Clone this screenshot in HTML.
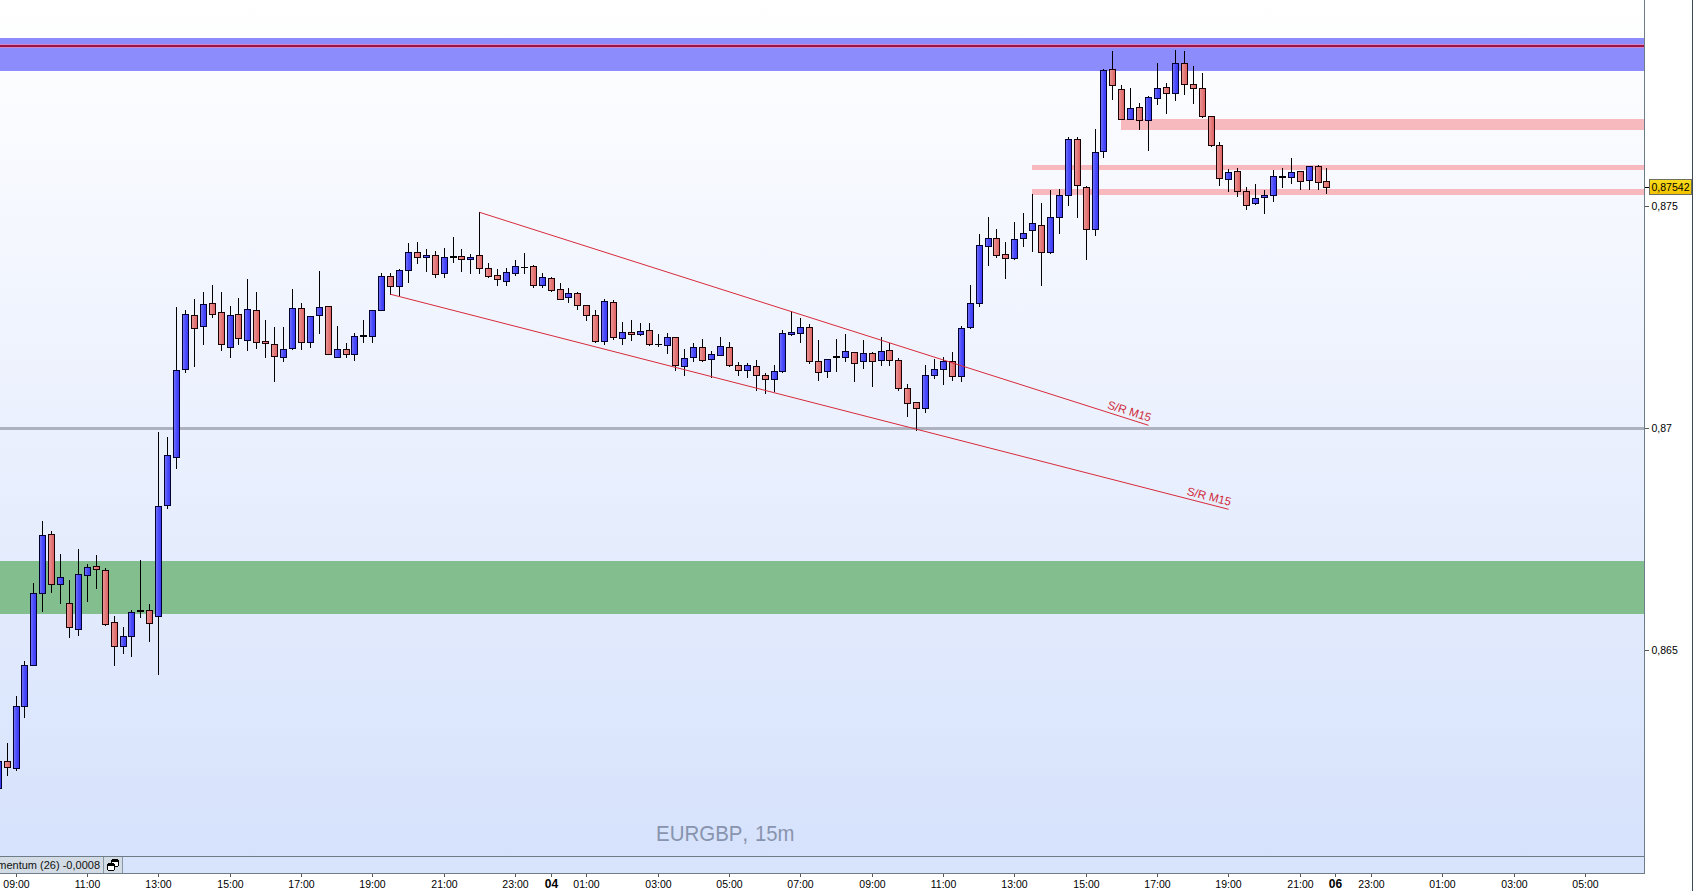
<!DOCTYPE html><html><head><meta charset="utf-8"><style>
html,body{margin:0;padding:0;width:1693px;height:891px;overflow:hidden;background:#fff;}
svg{display:block;font-family:"Liberation Sans",sans-serif;}
</style></head><body>
<svg width="1693" height="891" viewBox="0 0 1693 891">
<defs>
<linearGradient id="bg" x1="0" y1="0" x2="0" y2="1"><stop offset="0" stop-color="#ffffff"/><stop offset="1" stop-color="#d6e2fc"/></linearGradient>
<linearGradient id="gb" x1="0" y1="0" x2="1" y2="0"><stop offset="0" stop-color="#7070f4"/><stop offset="0.5" stop-color="#4c4cff"/><stop offset="1" stop-color="#3a3af0"/></linearGradient>
<linearGradient id="gr" x1="0" y1="0" x2="1" y2="0"><stop offset="0" stop-color="#ea9494"/><stop offset="1" stop-color="#de6262"/></linearGradient>
<linearGradient id="gy" x1="0" y1="0" x2="0" y2="1"><stop offset="0" stop-color="#f9dc1c"/><stop offset="1" stop-color="#f2c200"/></linearGradient>
</defs>
<rect x="0" y="0" width="1693" height="891" fill="#ffffff"/>
<rect x="0" y="0" width="1644" height="856" fill="url(#bg)"/>
<rect x="0" y="857" width="1644" height="16" fill="#d8e3fc"/>
<g shape-rendering="crispEdges">
<rect x="0" y="38" width="1644" height="33" fill="#8c8cfc"/>
<rect x="0" y="44" width="1644" height="1" fill="#d286c6"/>
<rect x="0" y="47" width="1644" height="1" fill="#d286c6"/>
<rect x="0" y="45" width="1644" height="2" fill="#9a1648"/>
<rect x="0" y="561" width="1644" height="53" fill="#82be8e"/>
<rect x="1121" y="119" width="523" height="11" fill="#f7b9bd"/>
<rect x="1032" y="165" width="612" height="5" fill="#f7b9bd"/>
<rect x="1032" y="189" width="612" height="6" fill="#f7b9bd"/>
<rect x="0" y="427" width="1644" height="3" fill="#adb1c0"/>
</g>
<g shape-rendering="crispEdges">
<rect x="-2" y="758" width="1" height="32" fill="#000"/>
<rect x="-5" y="761" width="7" height="28" fill="#000030"/>
<rect x="-4" y="762" width="5" height="26" fill="url(#gb)"/>
<rect x="7" y="743" width="1" height="33" fill="#000"/>
<rect x="4" y="761" width="7" height="7" fill="#1a0000"/>
<rect x="5" y="762" width="5" height="5" fill="url(#gr)"/>
<rect x="16" y="696" width="1" height="75" fill="#000"/>
<rect x="13" y="706" width="7" height="63" fill="#000030"/>
<rect x="14" y="707" width="5" height="61" fill="url(#gb)"/>
<rect x="24" y="661" width="1" height="57" fill="#000"/>
<rect x="21" y="665" width="7" height="42" fill="#000030"/>
<rect x="22" y="666" width="5" height="40" fill="url(#gb)"/>
<rect x="33" y="583" width="1" height="83" fill="#000"/>
<rect x="30" y="593" width="7" height="73" fill="#000030"/>
<rect x="31" y="594" width="5" height="71" fill="url(#gb)"/>
<rect x="42" y="521" width="1" height="91" fill="#000"/>
<rect x="39" y="535" width="7" height="59" fill="#000030"/>
<rect x="40" y="536" width="5" height="57" fill="url(#gb)"/>
<rect x="51" y="531" width="1" height="62" fill="#000"/>
<rect x="48" y="534" width="7" height="51" fill="#1a0000"/>
<rect x="49" y="535" width="5" height="49" fill="url(#gr)"/>
<rect x="60" y="554" width="1" height="50" fill="#000"/>
<rect x="57" y="577" width="7" height="8" fill="#000030"/>
<rect x="58" y="578" width="5" height="6" fill="url(#gb)"/>
<rect x="69" y="580" width="1" height="58" fill="#000"/>
<rect x="66" y="603" width="7" height="25" fill="#1a0000"/>
<rect x="67" y="604" width="5" height="23" fill="url(#gr)"/>
<rect x="78" y="549" width="1" height="87" fill="#000"/>
<rect x="75" y="574" width="7" height="56" fill="#000030"/>
<rect x="76" y="575" width="5" height="54" fill="url(#gb)"/>
<rect x="87" y="564" width="1" height="38" fill="#000"/>
<rect x="84" y="567" width="7" height="9" fill="#000030"/>
<rect x="85" y="568" width="5" height="7" fill="url(#gb)"/>
<rect x="96" y="555" width="1" height="34" fill="#000"/>
<rect x="93" y="566" width="7" height="4" fill="#1a0000"/>
<rect x="94" y="567" width="5" height="2" fill="url(#gr)"/>
<rect x="105" y="568" width="1" height="58" fill="#000"/>
<rect x="102" y="570" width="7" height="55" fill="#1a0000"/>
<rect x="103" y="571" width="5" height="53" fill="url(#gr)"/>
<rect x="114" y="616" width="1" height="50" fill="#000"/>
<rect x="111" y="622" width="7" height="25" fill="#1a0000"/>
<rect x="112" y="623" width="5" height="23" fill="url(#gr)"/>
<rect x="123" y="627" width="1" height="27" fill="#000"/>
<rect x="120" y="636" width="7" height="11" fill="#000030"/>
<rect x="121" y="637" width="5" height="9" fill="url(#gb)"/>
<rect x="131" y="610" width="1" height="47" fill="#000"/>
<rect x="128" y="612" width="7" height="25" fill="#000030"/>
<rect x="129" y="613" width="5" height="23" fill="url(#gb)"/>
<rect x="140" y="560" width="1" height="58" fill="#000"/>
<rect x="137" y="610" width="7" height="2" fill="#000"/>
<rect x="149" y="604" width="1" height="38" fill="#000"/>
<rect x="146" y="610" width="7" height="14" fill="#1a0000"/>
<rect x="147" y="611" width="5" height="12" fill="url(#gr)"/>
<rect x="158" y="432" width="1" height="243" fill="#000"/>
<rect x="155" y="506" width="7" height="111" fill="#000030"/>
<rect x="156" y="507" width="5" height="109" fill="url(#gb)"/>
<rect x="167" y="437" width="1" height="72" fill="#000"/>
<rect x="164" y="455" width="7" height="51" fill="#000030"/>
<rect x="165" y="456" width="5" height="49" fill="url(#gb)"/>
<rect x="176" y="307" width="1" height="162" fill="#000"/>
<rect x="173" y="370" width="7" height="88" fill="#000030"/>
<rect x="174" y="371" width="5" height="86" fill="url(#gb)"/>
<rect x="185" y="310" width="1" height="63" fill="#000"/>
<rect x="182" y="314" width="7" height="56" fill="#000030"/>
<rect x="183" y="315" width="5" height="54" fill="url(#gb)"/>
<rect x="194" y="299" width="1" height="68" fill="#000"/>
<rect x="191" y="315" width="7" height="14" fill="#1a0000"/>
<rect x="192" y="316" width="5" height="12" fill="url(#gr)"/>
<rect x="203" y="292" width="1" height="53" fill="#000"/>
<rect x="200" y="304" width="7" height="23" fill="#000030"/>
<rect x="201" y="305" width="5" height="21" fill="url(#gb)"/>
<rect x="212" y="285" width="1" height="33" fill="#000"/>
<rect x="209" y="303" width="7" height="12" fill="#1a0000"/>
<rect x="210" y="304" width="5" height="10" fill="url(#gr)"/>
<rect x="221" y="292" width="1" height="59" fill="#000"/>
<rect x="218" y="312" width="7" height="33" fill="#1a0000"/>
<rect x="219" y="313" width="5" height="31" fill="url(#gr)"/>
<rect x="230" y="306" width="1" height="52" fill="#000"/>
<rect x="227" y="315" width="7" height="33" fill="#000030"/>
<rect x="228" y="316" width="5" height="31" fill="url(#gb)"/>
<rect x="238" y="298" width="1" height="47" fill="#000"/>
<rect x="235" y="314" width="7" height="25" fill="#1a0000"/>
<rect x="236" y="315" width="5" height="23" fill="url(#gr)"/>
<rect x="247" y="279" width="1" height="72" fill="#000"/>
<rect x="244" y="309" width="7" height="32" fill="#000030"/>
<rect x="245" y="310" width="5" height="30" fill="url(#gb)"/>
<rect x="256" y="292" width="1" height="57" fill="#000"/>
<rect x="253" y="310" width="7" height="33" fill="#1a0000"/>
<rect x="254" y="311" width="5" height="31" fill="url(#gr)"/>
<rect x="265" y="320" width="1" height="38" fill="#000"/>
<rect x="262" y="341" width="7" height="3" fill="#1a0000"/>
<rect x="263" y="342" width="5" height="1" fill="url(#gr)"/>
<rect x="274" y="327" width="1" height="55" fill="#000"/>
<rect x="271" y="344" width="7" height="13" fill="#1a0000"/>
<rect x="272" y="345" width="5" height="11" fill="url(#gr)"/>
<rect x="283" y="327" width="1" height="35" fill="#000"/>
<rect x="280" y="349" width="7" height="9" fill="#000030"/>
<rect x="281" y="350" width="5" height="7" fill="url(#gb)"/>
<rect x="292" y="289" width="1" height="61" fill="#000"/>
<rect x="289" y="308" width="7" height="41" fill="#000030"/>
<rect x="290" y="309" width="5" height="39" fill="url(#gb)"/>
<rect x="301" y="303" width="1" height="47" fill="#000"/>
<rect x="298" y="308" width="7" height="35" fill="#1a0000"/>
<rect x="299" y="309" width="5" height="33" fill="url(#gr)"/>
<rect x="310" y="316" width="1" height="32" fill="#000"/>
<rect x="307" y="316" width="7" height="27" fill="#000030"/>
<rect x="308" y="317" width="5" height="25" fill="url(#gb)"/>
<rect x="319" y="271" width="1" height="63" fill="#000"/>
<rect x="316" y="307" width="7" height="9" fill="#000030"/>
<rect x="317" y="308" width="5" height="7" fill="url(#gb)"/>
<rect x="328" y="306" width="1" height="49" fill="#000"/>
<rect x="325" y="306" width="7" height="49" fill="#1a0000"/>
<rect x="326" y="307" width="5" height="47" fill="url(#gr)"/>
<rect x="337" y="326" width="1" height="32" fill="#000"/>
<rect x="334" y="349" width="7" height="9" fill="#000030"/>
<rect x="335" y="350" width="5" height="7" fill="url(#gb)"/>
<rect x="346" y="343" width="1" height="15" fill="#000"/>
<rect x="343" y="349" width="7" height="6" fill="#1a0000"/>
<rect x="344" y="350" width="5" height="4" fill="url(#gr)"/>
<rect x="354" y="333" width="1" height="28" fill="#000"/>
<rect x="351" y="336" width="7" height="19" fill="#000030"/>
<rect x="352" y="337" width="5" height="17" fill="url(#gb)"/>
<rect x="363" y="320" width="1" height="23" fill="#000"/>
<rect x="360" y="335" width="7" height="2" fill="#000"/>
<rect x="372" y="310" width="1" height="33" fill="#000"/>
<rect x="369" y="310" width="7" height="27" fill="#000030"/>
<rect x="370" y="311" width="5" height="25" fill="url(#gb)"/>
<rect x="381" y="273" width="1" height="38" fill="#000"/>
<rect x="378" y="276" width="7" height="35" fill="#000030"/>
<rect x="379" y="277" width="5" height="33" fill="url(#gb)"/>
<rect x="390" y="273" width="1" height="22" fill="#000"/>
<rect x="387" y="276" width="7" height="11" fill="#1a0000"/>
<rect x="388" y="277" width="5" height="9" fill="url(#gr)"/>
<rect x="399" y="269" width="1" height="27" fill="#000"/>
<rect x="396" y="270" width="7" height="17" fill="#000030"/>
<rect x="397" y="271" width="5" height="15" fill="url(#gb)"/>
<rect x="408" y="243" width="1" height="40" fill="#000"/>
<rect x="405" y="252" width="7" height="19" fill="#000030"/>
<rect x="406" y="253" width="5" height="17" fill="url(#gb)"/>
<rect x="417" y="242" width="1" height="22" fill="#000"/>
<rect x="414" y="252" width="7" height="6" fill="#1a0000"/>
<rect x="415" y="253" width="5" height="4" fill="url(#gr)"/>
<rect x="426" y="249" width="1" height="23" fill="#000"/>
<rect x="423" y="255" width="7" height="3" fill="#000030"/>
<rect x="424" y="256" width="5" height="1" fill="url(#gb)"/>
<rect x="435" y="251" width="1" height="27" fill="#000"/>
<rect x="432" y="255" width="7" height="20" fill="#1a0000"/>
<rect x="433" y="256" width="5" height="18" fill="url(#gr)"/>
<rect x="444" y="248" width="1" height="30" fill="#000"/>
<rect x="441" y="257" width="7" height="17" fill="#000030"/>
<rect x="442" y="258" width="5" height="15" fill="url(#gb)"/>
<rect x="453" y="237" width="1" height="26" fill="#000"/>
<rect x="450" y="256" width="7" height="2" fill="#000"/>
<rect x="461" y="249" width="1" height="23" fill="#000"/>
<rect x="458" y="256" width="7" height="4" fill="#1a0000"/>
<rect x="459" y="257" width="5" height="2" fill="url(#gr)"/>
<rect x="470" y="254" width="1" height="20" fill="#000"/>
<rect x="467" y="257" width="7" height="3" fill="#000030"/>
<rect x="468" y="258" width="5" height="1" fill="url(#gb)"/>
<rect x="479" y="212" width="1" height="62" fill="#000"/>
<rect x="476" y="255" width="7" height="14" fill="#1a0000"/>
<rect x="477" y="256" width="5" height="12" fill="url(#gr)"/>
<rect x="488" y="263" width="1" height="15" fill="#000"/>
<rect x="485" y="268" width="7" height="9" fill="#1a0000"/>
<rect x="486" y="269" width="5" height="7" fill="url(#gr)"/>
<rect x="497" y="269" width="1" height="17" fill="#000"/>
<rect x="494" y="275" width="7" height="5" fill="#1a0000"/>
<rect x="495" y="276" width="5" height="3" fill="url(#gr)"/>
<rect x="506" y="268" width="1" height="18" fill="#000"/>
<rect x="503" y="272" width="7" height="10" fill="#000030"/>
<rect x="504" y="273" width="5" height="8" fill="url(#gb)"/>
<rect x="515" y="260" width="1" height="16" fill="#000"/>
<rect x="512" y="266" width="7" height="8" fill="#000030"/>
<rect x="513" y="267" width="5" height="6" fill="url(#gb)"/>
<rect x="524" y="253" width="1" height="21" fill="#000"/>
<rect x="521" y="267" width="7" height="1" fill="#000"/>
<rect x="533" y="265" width="1" height="23" fill="#000"/>
<rect x="530" y="266" width="7" height="20" fill="#1a0000"/>
<rect x="531" y="267" width="5" height="18" fill="url(#gr)"/>
<rect x="542" y="273" width="1" height="15" fill="#000"/>
<rect x="539" y="277" width="7" height="9" fill="#000030"/>
<rect x="540" y="278" width="5" height="7" fill="url(#gb)"/>
<rect x="551" y="277" width="1" height="15" fill="#000"/>
<rect x="548" y="278" width="7" height="13" fill="#1a0000"/>
<rect x="549" y="279" width="5" height="11" fill="url(#gr)"/>
<rect x="560" y="283" width="1" height="17" fill="#000"/>
<rect x="557" y="289" width="7" height="11" fill="#1a0000"/>
<rect x="558" y="290" width="5" height="9" fill="url(#gr)"/>
<rect x="568" y="288" width="1" height="15" fill="#000"/>
<rect x="565" y="293" width="7" height="5" fill="#000030"/>
<rect x="566" y="294" width="5" height="3" fill="url(#gb)"/>
<rect x="577" y="292" width="1" height="18" fill="#000"/>
<rect x="574" y="293" width="7" height="13" fill="#1a0000"/>
<rect x="575" y="294" width="5" height="11" fill="url(#gr)"/>
<rect x="586" y="305" width="1" height="16" fill="#000"/>
<rect x="583" y="305" width="7" height="11" fill="#1a0000"/>
<rect x="584" y="306" width="5" height="9" fill="url(#gr)"/>
<rect x="595" y="310" width="1" height="33" fill="#000"/>
<rect x="592" y="315" width="7" height="27" fill="#1a0000"/>
<rect x="593" y="316" width="5" height="25" fill="url(#gr)"/>
<rect x="604" y="299" width="1" height="46" fill="#000"/>
<rect x="601" y="301" width="7" height="41" fill="#000030"/>
<rect x="602" y="302" width="5" height="39" fill="url(#gb)"/>
<rect x="613" y="300" width="1" height="40" fill="#000"/>
<rect x="610" y="302" width="7" height="36" fill="#1a0000"/>
<rect x="611" y="303" width="5" height="34" fill="url(#gr)"/>
<rect x="622" y="322" width="1" height="23" fill="#000"/>
<rect x="619" y="332" width="7" height="7" fill="#000030"/>
<rect x="620" y="333" width="5" height="5" fill="url(#gb)"/>
<rect x="631" y="320" width="1" height="21" fill="#000"/>
<rect x="628" y="332" width="7" height="3" fill="#1a0000"/>
<rect x="629" y="333" width="5" height="1" fill="url(#gr)"/>
<rect x="640" y="323" width="1" height="13" fill="#000"/>
<rect x="637" y="331" width="7" height="4" fill="#000030"/>
<rect x="638" y="332" width="5" height="2" fill="url(#gb)"/>
<rect x="649" y="323" width="1" height="23" fill="#000"/>
<rect x="646" y="330" width="7" height="15" fill="#1a0000"/>
<rect x="647" y="331" width="5" height="13" fill="url(#gr)"/>
<rect x="658" y="334" width="1" height="13" fill="#000"/>
<rect x="655" y="344" width="7" height="1" fill="#000"/>
<rect x="667" y="333" width="1" height="21" fill="#000"/>
<rect x="664" y="337" width="7" height="9" fill="#000030"/>
<rect x="665" y="338" width="5" height="7" fill="url(#gb)"/>
<rect x="675" y="337" width="1" height="34" fill="#000"/>
<rect x="672" y="337" width="7" height="29" fill="#1a0000"/>
<rect x="673" y="338" width="5" height="27" fill="url(#gr)"/>
<rect x="684" y="349" width="1" height="27" fill="#000"/>
<rect x="681" y="358" width="7" height="9" fill="#000030"/>
<rect x="682" y="359" width="5" height="7" fill="url(#gb)"/>
<rect x="693" y="343" width="1" height="19" fill="#000"/>
<rect x="690" y="347" width="7" height="11" fill="#000030"/>
<rect x="691" y="348" width="5" height="9" fill="url(#gb)"/>
<rect x="702" y="339" width="1" height="23" fill="#000"/>
<rect x="699" y="347" width="7" height="14" fill="#1a0000"/>
<rect x="700" y="348" width="5" height="12" fill="url(#gr)"/>
<rect x="711" y="351" width="1" height="27" fill="#000"/>
<rect x="708" y="354" width="7" height="6" fill="#000030"/>
<rect x="709" y="355" width="5" height="4" fill="url(#gb)"/>
<rect x="720" y="337" width="1" height="19" fill="#000"/>
<rect x="717" y="346" width="7" height="10" fill="#000030"/>
<rect x="718" y="347" width="5" height="8" fill="url(#gb)"/>
<rect x="729" y="342" width="1" height="25" fill="#000"/>
<rect x="726" y="347" width="7" height="19" fill="#1a0000"/>
<rect x="727" y="348" width="5" height="17" fill="url(#gr)"/>
<rect x="738" y="362" width="1" height="14" fill="#000"/>
<rect x="735" y="365" width="7" height="6" fill="#1a0000"/>
<rect x="736" y="366" width="5" height="4" fill="url(#gr)"/>
<rect x="747" y="363" width="1" height="15" fill="#000"/>
<rect x="744" y="365" width="7" height="6" fill="#000030"/>
<rect x="745" y="366" width="5" height="4" fill="url(#gb)"/>
<rect x="756" y="360" width="1" height="31" fill="#000"/>
<rect x="753" y="366" width="7" height="10" fill="#1a0000"/>
<rect x="754" y="367" width="5" height="8" fill="url(#gr)"/>
<rect x="765" y="373" width="1" height="21" fill="#000"/>
<rect x="762" y="375" width="7" height="5" fill="#1a0000"/>
<rect x="763" y="376" width="5" height="3" fill="url(#gr)"/>
<rect x="774" y="365" width="1" height="27" fill="#000"/>
<rect x="771" y="371" width="7" height="9" fill="#000030"/>
<rect x="772" y="372" width="5" height="7" fill="url(#gb)"/>
<rect x="782" y="330" width="1" height="43" fill="#000"/>
<rect x="779" y="333" width="7" height="39" fill="#000030"/>
<rect x="780" y="334" width="5" height="37" fill="url(#gb)"/>
<rect x="791" y="311" width="1" height="25" fill="#000"/>
<rect x="788" y="332" width="7" height="3" fill="#000030"/>
<rect x="789" y="333" width="5" height="1" fill="url(#gb)"/>
<rect x="800" y="318" width="1" height="25" fill="#000"/>
<rect x="797" y="327" width="7" height="7" fill="#000030"/>
<rect x="798" y="328" width="5" height="5" fill="url(#gb)"/>
<rect x="809" y="324" width="1" height="40" fill="#000"/>
<rect x="806" y="327" width="7" height="35" fill="#1a0000"/>
<rect x="807" y="328" width="5" height="33" fill="url(#gr)"/>
<rect x="818" y="340" width="1" height="41" fill="#000"/>
<rect x="815" y="361" width="7" height="12" fill="#1a0000"/>
<rect x="816" y="362" width="5" height="10" fill="url(#gr)"/>
<rect x="827" y="359" width="1" height="19" fill="#000"/>
<rect x="824" y="359" width="7" height="13" fill="#000030"/>
<rect x="825" y="360" width="5" height="11" fill="url(#gb)"/>
<rect x="836" y="339" width="1" height="33" fill="#000"/>
<rect x="833" y="356" width="7" height="2" fill="#000"/>
<rect x="845" y="334" width="1" height="28" fill="#000"/>
<rect x="842" y="351" width="7" height="7" fill="#000030"/>
<rect x="843" y="352" width="5" height="5" fill="url(#gb)"/>
<rect x="854" y="352" width="1" height="30" fill="#000"/>
<rect x="851" y="352" width="7" height="12" fill="#1a0000"/>
<rect x="852" y="353" width="5" height="10" fill="url(#gr)"/>
<rect x="863" y="340" width="1" height="29" fill="#000"/>
<rect x="860" y="353" width="7" height="9" fill="#000030"/>
<rect x="861" y="354" width="5" height="7" fill="url(#gb)"/>
<rect x="872" y="352" width="1" height="35" fill="#000"/>
<rect x="869" y="353" width="7" height="9" fill="#1a0000"/>
<rect x="870" y="354" width="5" height="7" fill="url(#gr)"/>
<rect x="881" y="337" width="1" height="29" fill="#000"/>
<rect x="878" y="351" width="7" height="10" fill="#000030"/>
<rect x="879" y="352" width="5" height="8" fill="url(#gb)"/>
<rect x="889" y="343" width="1" height="23" fill="#000"/>
<rect x="886" y="350" width="7" height="11" fill="#1a0000"/>
<rect x="887" y="351" width="5" height="9" fill="url(#gr)"/>
<rect x="898" y="358" width="1" height="33" fill="#000"/>
<rect x="895" y="360" width="7" height="29" fill="#1a0000"/>
<rect x="896" y="361" width="5" height="27" fill="url(#gr)"/>
<rect x="907" y="384" width="1" height="33" fill="#000"/>
<rect x="904" y="388" width="7" height="16" fill="#1a0000"/>
<rect x="905" y="389" width="5" height="14" fill="url(#gr)"/>
<rect x="916" y="402" width="1" height="29" fill="#000"/>
<rect x="913" y="402" width="7" height="7" fill="#1a0000"/>
<rect x="914" y="403" width="5" height="5" fill="url(#gr)"/>
<rect x="925" y="365" width="1" height="48" fill="#000"/>
<rect x="922" y="375" width="7" height="34" fill="#000030"/>
<rect x="923" y="376" width="5" height="32" fill="url(#gb)"/>
<rect x="934" y="359" width="1" height="20" fill="#000"/>
<rect x="931" y="369" width="7" height="7" fill="#000030"/>
<rect x="932" y="370" width="5" height="5" fill="url(#gb)"/>
<rect x="943" y="357" width="1" height="28" fill="#000"/>
<rect x="940" y="361" width="7" height="9" fill="#000030"/>
<rect x="941" y="362" width="5" height="7" fill="url(#gb)"/>
<rect x="952" y="352" width="1" height="29" fill="#000"/>
<rect x="949" y="361" width="7" height="16" fill="#1a0000"/>
<rect x="950" y="362" width="5" height="14" fill="url(#gr)"/>
<rect x="961" y="326" width="1" height="56" fill="#000"/>
<rect x="958" y="328" width="7" height="49" fill="#000030"/>
<rect x="959" y="329" width="5" height="47" fill="url(#gb)"/>
<rect x="970" y="285" width="1" height="44" fill="#000"/>
<rect x="967" y="303" width="7" height="25" fill="#000030"/>
<rect x="968" y="304" width="5" height="23" fill="url(#gb)"/>
<rect x="979" y="234" width="1" height="73" fill="#000"/>
<rect x="976" y="245" width="7" height="59" fill="#000030"/>
<rect x="977" y="246" width="5" height="57" fill="url(#gb)"/>
<rect x="988" y="217" width="1" height="49" fill="#000"/>
<rect x="985" y="238" width="7" height="9" fill="#000030"/>
<rect x="986" y="239" width="5" height="7" fill="url(#gb)"/>
<rect x="996" y="229" width="1" height="29" fill="#000"/>
<rect x="993" y="238" width="7" height="18" fill="#1a0000"/>
<rect x="994" y="239" width="5" height="16" fill="url(#gr)"/>
<rect x="1005" y="242" width="1" height="37" fill="#000"/>
<rect x="1002" y="254" width="7" height="5" fill="#1a0000"/>
<rect x="1003" y="255" width="5" height="3" fill="url(#gr)"/>
<rect x="1014" y="222" width="1" height="38" fill="#000"/>
<rect x="1011" y="239" width="7" height="20" fill="#000030"/>
<rect x="1012" y="240" width="5" height="18" fill="url(#gb)"/>
<rect x="1023" y="213" width="1" height="34" fill="#000"/>
<rect x="1020" y="233" width="7" height="6" fill="#000030"/>
<rect x="1021" y="234" width="5" height="4" fill="url(#gb)"/>
<rect x="1032" y="194" width="1" height="58" fill="#000"/>
<rect x="1029" y="223" width="7" height="8" fill="#000030"/>
<rect x="1030" y="224" width="5" height="6" fill="url(#gb)"/>
<rect x="1041" y="203" width="1" height="83" fill="#000"/>
<rect x="1038" y="225" width="7" height="28" fill="#1a0000"/>
<rect x="1039" y="226" width="5" height="26" fill="url(#gr)"/>
<rect x="1050" y="190" width="1" height="64" fill="#000"/>
<rect x="1047" y="217" width="7" height="36" fill="#000030"/>
<rect x="1048" y="218" width="5" height="34" fill="url(#gb)"/>
<rect x="1059" y="189" width="1" height="45" fill="#000"/>
<rect x="1056" y="195" width="7" height="23" fill="#000030"/>
<rect x="1057" y="196" width="5" height="21" fill="url(#gb)"/>
<rect x="1068" y="137" width="1" height="69" fill="#000"/>
<rect x="1065" y="139" width="7" height="57" fill="#000030"/>
<rect x="1066" y="140" width="5" height="55" fill="url(#gb)"/>
<rect x="1077" y="137" width="1" height="81" fill="#000"/>
<rect x="1074" y="139" width="7" height="47" fill="#1a0000"/>
<rect x="1075" y="140" width="5" height="45" fill="url(#gr)"/>
<rect x="1086" y="186" width="1" height="74" fill="#000"/>
<rect x="1083" y="187" width="7" height="43" fill="#1a0000"/>
<rect x="1084" y="188" width="5" height="41" fill="url(#gr)"/>
<rect x="1095" y="129" width="1" height="107" fill="#000"/>
<rect x="1092" y="152" width="7" height="78" fill="#000030"/>
<rect x="1093" y="153" width="5" height="76" fill="url(#gb)"/>
<rect x="1103" y="69" width="1" height="89" fill="#000"/>
<rect x="1100" y="70" width="7" height="82" fill="#000030"/>
<rect x="1101" y="71" width="5" height="80" fill="url(#gb)"/>
<rect x="1112" y="51" width="1" height="49" fill="#000"/>
<rect x="1109" y="69" width="7" height="17" fill="#1a0000"/>
<rect x="1110" y="70" width="5" height="15" fill="url(#gr)"/>
<rect x="1121" y="85" width="1" height="35" fill="#000"/>
<rect x="1118" y="89" width="7" height="31" fill="#1a0000"/>
<rect x="1119" y="90" width="5" height="29" fill="url(#gr)"/>
<rect x="1130" y="88" width="1" height="32" fill="#000"/>
<rect x="1127" y="108" width="7" height="12" fill="#000030"/>
<rect x="1128" y="109" width="5" height="10" fill="url(#gb)"/>
<rect x="1139" y="103" width="1" height="27" fill="#000"/>
<rect x="1136" y="107" width="7" height="14" fill="#1a0000"/>
<rect x="1137" y="108" width="5" height="12" fill="url(#gr)"/>
<rect x="1148" y="96" width="1" height="55" fill="#000"/>
<rect x="1145" y="97" width="7" height="24" fill="#000030"/>
<rect x="1146" y="98" width="5" height="22" fill="url(#gb)"/>
<rect x="1157" y="63" width="1" height="42" fill="#000"/>
<rect x="1154" y="88" width="7" height="11" fill="#000030"/>
<rect x="1155" y="89" width="5" height="9" fill="url(#gb)"/>
<rect x="1166" y="83" width="1" height="31" fill="#000"/>
<rect x="1163" y="87" width="7" height="7" fill="#1a0000"/>
<rect x="1164" y="88" width="5" height="5" fill="url(#gr)"/>
<rect x="1175" y="50" width="1" height="51" fill="#000"/>
<rect x="1172" y="63" width="7" height="31" fill="#000030"/>
<rect x="1173" y="64" width="5" height="29" fill="url(#gb)"/>
<rect x="1184" y="51" width="1" height="44" fill="#000"/>
<rect x="1181" y="63" width="7" height="22" fill="#1a0000"/>
<rect x="1182" y="64" width="5" height="20" fill="url(#gr)"/>
<rect x="1193" y="66" width="1" height="38" fill="#000"/>
<rect x="1190" y="84" width="7" height="5" fill="#1a0000"/>
<rect x="1191" y="85" width="5" height="3" fill="url(#gr)"/>
<rect x="1202" y="73" width="1" height="45" fill="#000"/>
<rect x="1199" y="88" width="7" height="29" fill="#1a0000"/>
<rect x="1200" y="89" width="5" height="27" fill="url(#gr)"/>
<rect x="1211" y="116" width="1" height="31" fill="#000"/>
<rect x="1208" y="116" width="7" height="30" fill="#1a0000"/>
<rect x="1209" y="117" width="5" height="28" fill="url(#gr)"/>
<rect x="1219" y="142" width="1" height="44" fill="#000"/>
<rect x="1216" y="145" width="7" height="34" fill="#1a0000"/>
<rect x="1217" y="146" width="5" height="32" fill="url(#gr)"/>
<rect x="1228" y="169" width="1" height="23" fill="#000"/>
<rect x="1225" y="172" width="7" height="8" fill="#000030"/>
<rect x="1226" y="173" width="5" height="6" fill="url(#gb)"/>
<rect x="1237" y="168" width="1" height="29" fill="#000"/>
<rect x="1234" y="171" width="7" height="21" fill="#1a0000"/>
<rect x="1235" y="172" width="5" height="19" fill="url(#gr)"/>
<rect x="1246" y="187" width="1" height="23" fill="#000"/>
<rect x="1243" y="191" width="7" height="15" fill="#1a0000"/>
<rect x="1244" y="192" width="5" height="13" fill="url(#gr)"/>
<rect x="1255" y="184" width="1" height="21" fill="#000"/>
<rect x="1252" y="198" width="7" height="6" fill="#000030"/>
<rect x="1253" y="199" width="5" height="4" fill="url(#gb)"/>
<rect x="1264" y="190" width="1" height="24" fill="#000"/>
<rect x="1261" y="195" width="7" height="3" fill="#000030"/>
<rect x="1262" y="196" width="5" height="1" fill="url(#gb)"/>
<rect x="1273" y="170" width="1" height="32" fill="#000"/>
<rect x="1270" y="176" width="7" height="20" fill="#000030"/>
<rect x="1271" y="177" width="5" height="18" fill="url(#gb)"/>
<rect x="1282" y="168" width="1" height="20" fill="#000"/>
<rect x="1279" y="176" width="7" height="2" fill="#000"/>
<rect x="1291" y="158" width="1" height="26" fill="#000"/>
<rect x="1288" y="172" width="7" height="6" fill="#000030"/>
<rect x="1289" y="173" width="5" height="4" fill="url(#gb)"/>
<rect x="1300" y="171" width="1" height="19" fill="#000"/>
<rect x="1297" y="171" width="7" height="11" fill="#1a0000"/>
<rect x="1298" y="172" width="5" height="9" fill="url(#gr)"/>
<rect x="1309" y="166" width="1" height="24" fill="#000"/>
<rect x="1306" y="166" width="7" height="15" fill="#000030"/>
<rect x="1307" y="167" width="5" height="13" fill="url(#gb)"/>
<rect x="1318" y="165" width="1" height="25" fill="#000"/>
<rect x="1315" y="166" width="7" height="17" fill="#1a0000"/>
<rect x="1316" y="167" width="5" height="15" fill="url(#gr)"/>
<rect x="1326" y="168" width="1" height="26" fill="#000"/>
<rect x="1323" y="181" width="7" height="7" fill="#1a0000"/>
<rect x="1324" y="182" width="5" height="5" fill="url(#gr)"/>
</g>
<line x1="479.5" y1="212.3" x2="1148.5" y2="425.3" stroke="#d82a3a" stroke-width="1"/>
<line x1="390.2" y1="294.2" x2="1228.6" y2="509.3" stroke="#d82a3a" stroke-width="1"/>
<text x="0" y="0" transform="translate(1148.5,425.6) rotate(17.6) translate(0,-4)" text-anchor="end" font-size="11.6" fill="#d02838">S/R M15</text>
<text x="0" y="0" transform="translate(1229,509.8) rotate(14.4) translate(0,-4)" text-anchor="end" font-size="11.6" fill="#d02838">S/R M15</text>
<g font-size="21.4" fill="#8894ae"><text x="656" y="841" textLength="86.5" lengthAdjust="spacingAndGlyphs">EURGBP</text><text x="742.3" y="841">,</text><text x="755" y="841" textLength="39.5" lengthAdjust="spacingAndGlyphs">15m</text></g>
<g shape-rendering="crispEdges">
<rect x="1644" y="0" width="1" height="874" fill="#6e7c88"/>
<rect x="0" y="856" width="1645" height="1" fill="#6e7c88"/>
<rect x="0" y="873" width="1645" height="1" fill="#6e7c88"/>
<rect x="1692" y="0" width="1" height="891" fill="#3c4a55"/>
<rect x="0" y="857" width="103" height="16" fill="#d3dce5"/>
<rect x="103" y="857" width="1" height="16" fill="#8a98a5"/>
<rect x="104" y="857" width="18" height="16" fill="#d3dce5"/>
<rect x="122" y="857" width="1" height="16" fill="#8a98a5"/>
</g>
<text x="100" y="868.5" font-size="11" text-anchor="end" fill="#111">Momentum (26) -0,0008</text>
<g shape-rendering="crispEdges">
<rect x="112" y="859" width="6" height="8" fill="#000"/><rect x="111" y="860" width="8" height="6" fill="#000"/><rect x="112" y="862" width="6" height="4" fill="#fff"/>
<rect x="108" y="863" width="6" height="8" fill="#000"/><rect x="107" y="864" width="8" height="6" fill="#000"/><rect x="108" y="866" width="6" height="4" fill="#fff"/>
</g>
<g shape-rendering="crispEdges">
<rect x="16" y="874" width="1" height="3" fill="#555"/>
<rect x="87" y="874" width="1" height="3" fill="#555"/>
<rect x="158" y="874" width="1" height="3" fill="#555"/>
<rect x="230" y="874" width="1" height="3" fill="#555"/>
<rect x="301" y="874" width="1" height="3" fill="#555"/>
<rect x="372" y="874" width="1" height="3" fill="#555"/>
<rect x="444" y="874" width="1" height="3" fill="#555"/>
<rect x="515" y="874" width="1" height="3" fill="#555"/>
<rect x="551" y="874" width="1" height="3" fill="#555"/>
<rect x="586" y="874" width="1" height="3" fill="#555"/>
<rect x="658" y="874" width="1" height="3" fill="#555"/>
<rect x="729" y="874" width="1" height="3" fill="#555"/>
<rect x="800" y="874" width="1" height="3" fill="#555"/>
<rect x="872" y="874" width="1" height="3" fill="#555"/>
<rect x="943" y="874" width="1" height="3" fill="#555"/>
<rect x="1014" y="874" width="1" height="3" fill="#555"/>
<rect x="1086" y="874" width="1" height="3" fill="#555"/>
<rect x="1157" y="874" width="1" height="3" fill="#555"/>
<rect x="1228" y="874" width="1" height="3" fill="#555"/>
<rect x="1300" y="874" width="1" height="3" fill="#555"/>
<rect x="1335" y="874" width="1" height="3" fill="#555"/>
<rect x="1371" y="874" width="1" height="3" fill="#555"/>
<rect x="1442" y="874" width="1" height="3" fill="#555"/>
<rect x="1514" y="874" width="1" height="3" fill="#555"/>
<rect x="1585" y="874" width="1" height="3" fill="#555"/>
</g>
<text x="16.5" y="888" font-size="10.5" text-anchor="middle" fill="#000">09:00</text>
<text x="87.5" y="888" font-size="10.5" text-anchor="middle" fill="#000">11:00</text>
<text x="158.5" y="888" font-size="10.5" text-anchor="middle" fill="#000">13:00</text>
<text x="230.5" y="888" font-size="10.5" text-anchor="middle" fill="#000">15:00</text>
<text x="301.5" y="888" font-size="10.5" text-anchor="middle" fill="#000">17:00</text>
<text x="372.5" y="888" font-size="10.5" text-anchor="middle" fill="#000">19:00</text>
<text x="444.5" y="888" font-size="10.5" text-anchor="middle" fill="#000">21:00</text>
<text x="515.5" y="888" font-size="10.5" text-anchor="middle" fill="#000">23:00</text>
<text x="551.5" y="888" font-size="12" font-weight="bold" text-anchor="middle" fill="#000">04</text>
<text x="586.5" y="888" font-size="10.5" text-anchor="middle" fill="#000">01:00</text>
<text x="658.5" y="888" font-size="10.5" text-anchor="middle" fill="#000">03:00</text>
<text x="729.5" y="888" font-size="10.5" text-anchor="middle" fill="#000">05:00</text>
<text x="800.5" y="888" font-size="10.5" text-anchor="middle" fill="#000">07:00</text>
<text x="872.5" y="888" font-size="10.5" text-anchor="middle" fill="#000">09:00</text>
<text x="943.5" y="888" font-size="10.5" text-anchor="middle" fill="#000">11:00</text>
<text x="1014.5" y="888" font-size="10.5" text-anchor="middle" fill="#000">13:00</text>
<text x="1086.5" y="888" font-size="10.5" text-anchor="middle" fill="#000">15:00</text>
<text x="1157.5" y="888" font-size="10.5" text-anchor="middle" fill="#000">17:00</text>
<text x="1228.5" y="888" font-size="10.5" text-anchor="middle" fill="#000">19:00</text>
<text x="1300.5" y="888" font-size="10.5" text-anchor="middle" fill="#000">21:00</text>
<text x="1335.5" y="888" font-size="12" font-weight="bold" text-anchor="middle" fill="#000">06</text>
<text x="1371.5" y="888" font-size="10.5" text-anchor="middle" fill="#000">23:00</text>
<text x="1442.5" y="888" font-size="10.5" text-anchor="middle" fill="#000">01:00</text>
<text x="1514.5" y="888" font-size="10.5" text-anchor="middle" fill="#000">03:00</text>
<text x="1585.5" y="888" font-size="10.5" text-anchor="middle" fill="#000">05:00</text>
<g shape-rendering="crispEdges">
<rect x="1645" y="206" width="4" height="1" fill="#555"/>
<rect x="1645" y="428" width="4" height="1" fill="#555"/>
<rect x="1645" y="650" width="4" height="1" fill="#555"/>
<rect x="1645" y="187" width="4" height="1" fill="#000"/>
<rect x="1649" y="179" width="43" height="16" fill="#707058"/>
<rect x="1650" y="180" width="41" height="14" fill="url(#gy)"/>
</g>
<text x="1651.5" y="210" font-size="10.5" fill="#000">0,875</text>
<text x="1651.5" y="432" font-size="10.5" fill="#000">0,87</text>
<text x="1651.5" y="654" font-size="10.5" fill="#000">0,865</text>
<text x="1651.5" y="190.8" font-size="10.5" textLength="38" lengthAdjust="spacingAndGlyphs" fill="#000">0,87542</text>
</svg></body></html>
